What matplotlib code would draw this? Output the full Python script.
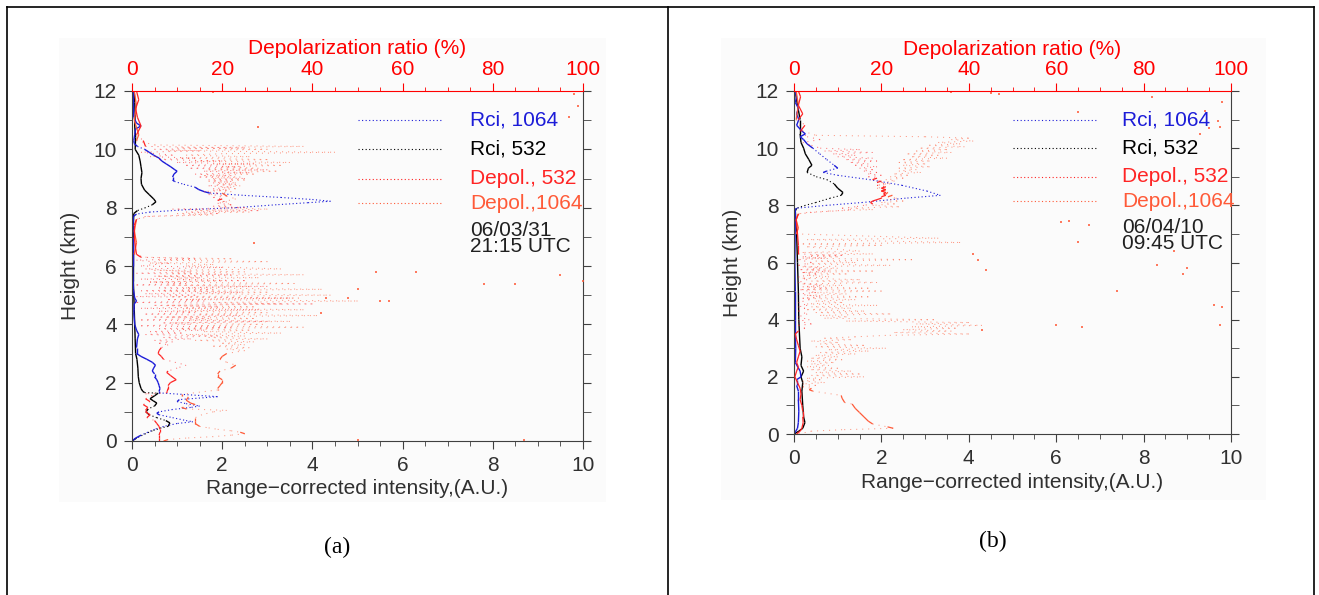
import numpy as np
import matplotlib
matplotlib.use('Agg')
import matplotlib.pyplot as plt
from matplotlib.collections import LineCollection
from matplotlib.lines import Line2D
from matplotlib.patches import Rectangle

plt.rcParams['font.family'] = ['Liberation Sans', 'DejaVu Sans']

# ---- panel (a) : 06/03/31 21:15 UTC  (height km, value) ----
a_rci532 = [(12.0, 0.05), (11.6, 0.06), (11.2, 0.07), (10.8, 0.06), (10.4, 0.08), (10.0, 0.07),
            (9.8, 0.15), (9.6, 0.18), (9.4, 0.2), (9.2, 0.22), (9.0, 0.2), (8.8, 0.21), (8.6, 0.28),
            (8.45, 0.38), (8.3, 0.48), (8.2, 0.53), (8.1, 0.45), (8.0, 0.3), (7.9, 0.12), (7.8, 0.04),
            (7.4, 0.03), (6.5, 0.03), (5.5, 0.03), (5.0, 0.04), (4.5, 0.05), (4.0, 0.06), (3.5, 0.07),
            (3.0, 0.08), (2.8, 0.11), (2.5, 0.13), (2.2, 0.14), (2.0, 0.16), (1.8, 0.2), (1.7, 0.24),
            (1.66, 0.28), (1.64, 0.58), (1.55, 0.5), (1.45, 0.4), (1.38, 0.47), (1.3, 0.55), (1.2, 0.5),
            (1.1, 0.36), (1.0, 0.31), (0.9, 0.38), (0.8, 0.55), (0.7, 0.75), (0.62, 0.84), (0.5, 0.8),
            (0.45, 0.65), (0.35, 0.45), (0.25, 0.3), (0.1, 0.1), (0.0, 0.0)]
a_rci1064 = [(12.0, 0.03), (11.5, 0.03), (11.1, 0.04), (10.9, 0.1), (10.8, 0.2), (10.7, 0.08), (10.5, 0.06),
             (10.3, 0.04), (10.2, 0.05), (10.1, 0.12), (10.0, 0.28), (9.9, 0.38), (9.8, 0.48), (9.7, 0.6),
             (9.6, 0.66), (9.5, 0.76), (9.4, 0.86), (9.3, 0.95), (9.25, 1.0), (9.15, 0.93), (9.05, 0.9),
             (8.95, 0.9), (8.9, 0.94), (8.8, 1.15), (8.7, 1.4), (8.62, 1.48), (8.55, 1.6), (8.5, 1.72),
             (8.42, 2.5), (8.35, 3.3), (8.28, 4.0), (8.22, 4.4), (8.17, 3.9), (8.1, 3.2), (8.0, 2.3),
             (7.93, 1.2), (7.85, 0.4), (7.78, 0.1), (7.7, 0.03), (7.0, 0.02), (6.0, 0.02), (5.2, 0.03),
             (4.9, 0.06), (4.8, 0.1), (4.7, 0.05), (4.4, 0.04), (4.0, 0.06), (3.8, 0.1), (3.65, 0.15),
             (3.5, 0.12), (3.2, 0.1), (3.0, 0.1), (2.9, 0.2), (2.8, 0.33), (2.7, 0.45), (2.6, 0.52),
             (2.5, 0.48), (2.4, 0.45), (2.3, 0.5), (2.2, 0.5), (2.1, 0.55), (2.0, 0.58), (1.9, 0.6),
             (1.8, 0.62), (1.7, 0.6), (1.65, 0.6), (1.52, 1.9), (1.42, 1.05), (1.35, 1.0), (1.28, 1.2),
             (1.2, 1.5), (1.15, 1.3), (1.08, 0.9), (1.0, 0.6), (0.95, 0.55), (0.9, 0.6), (0.8, 0.9),
             (0.7, 1.2), (0.66, 1.35), (0.6, 1.0), (0.5, 0.7), (0.4, 0.5), (0.3, 0.35), (0.2, 0.2),
             (0.1, 0.08), (0.0, 0.0)]
a_dep532 = [(12.0, 1.0), (11.7, 1.5), (11.4, 0.8), (11.1, 1.2), (10.8, 2.0), (10.5, 1.0), (10.3, 2.5),
            (10.1, 3), (10.05, 25), (10.0, 5), (9.95, 15), (9.9, 2), (9.8, 9), (9.75, 4), (9.7, 14),
            (9.65, 6), (9.6, 20), (9.55, 10), (9.5, 27), (9.45, 12), (9.4, 24), (9.35, 13), (9.3, 30),
            (9.25, 16), (9.2, 26), (9.15, 14), (9.1, 22), (9.05, 15), (9.0, 25), (8.95, 17), (8.9, 22),
            (8.85, 18), (8.8, 23), (8.75, 17), (8.7, 22), (8.65, 18), (8.6, 21), (8.55, 16), (8.5, 19),
            (8.45, 17), (8.4, 21), (8.35, 18), (8.3, 20), (8.25, 19), (8.2, 21), (8.15, 19), (8.1, 22),
            (8.05, 18), (8.0, 25), (7.95, 9), (7.9, 28), (7.85, 12), (7.8, 19), (7.75, 13), (7.7, 3),
            (7.6, 1), (7.4, 0.5), (7.0, 0.5), (6.6, 0.8), (6.4, 1),
            (6.3, 2), (6.25, 14), (6.2, 1), (6.1, 8), (6.0, 2), (5.95, 20), (5.9, 3), (5.8, 13),
            (5.75, 1), (5.7, 22), (5.65, 5), (5.6, 15), (5.55, 2), (5.5, 25), (5.45, 4), (5.4, 12),
            (5.35, 1), (5.3, 30), (5.25, 6), (5.2, 18), (5.15, 2), (5.1, 24), (5.05, 3), (5.0, 14),
            (4.95, 1), (4.9, 35), (4.85, 8), (4.8, 16), (4.75, 1), (4.7, 40), (4.65, 5), (4.6, 19),
            (4.55, 2), (4.5, 28), (4.45, 6), (4.4, 14), (4.35, 3), (4.3, 24), (4.25, 5), (4.2, 17),
            (4.15, 2), (4.1, 30), (4.05, 7), (4.0, 13), (3.95, 2), (3.9, 22), (3.85, 6), (3.8, 16),
            (3.75, 4), (3.7, 11), (3.65, 3), (3.6, 19), (3.55, 7), (3.5, 13), (3.45, 5), (3.4, 9),
            (3.35, 6), (3.3, 8), (3.2, 6.5), (3.1, 6.0), (3.0, 5.8), (2.9, 6.5), (2.8, 7.0), (2.7, 9.5),
            (2.6, 12), (2.5, 10), (2.4, 8), (2.35, 7.7), (2.25, 8.5), (2.1, 9.8), (2.0, 8.5), (1.9, 8),
            (1.8, 8.0), (1.7, 7.8), (1.65, 7.7), (1.62, 3.0), (1.55, 4.5), (1.45, 3.0), (1.35, 4.0),
            (1.25, 2.5), (1.15, 3.5), (1.05, 3.0), (1.0, 3.0), (0.9, 4.0), (0.8, 3.3), (0.7, 5.0),
            (0.6, 5.5), (0.5, 6.0), (0.4, 6.2), (0.3, 6.2), (0.2, 6.0), (0.1, 6.0), (0.0, 6.0)]
a_dep1064 = [(12.0, 0.5), (11.5, 1), (11.0, 0.5), (10.5, 1.5), (10.3, 1),
             (10.15, 5), (10.1, 38), (10.05, 10), (10.0, 30), (9.95, 8), (9.9, 45), (9.85, 20), (9.8, 12),
             (9.75, 26), (9.7, 11), (9.65, 30), (9.6, 14), (9.55, 35), (9.5, 18), (9.45, 33), (9.4, 20),
             (9.35, 28), (9.3, 17), (9.25, 32), (9.2, 20), (9.15, 27), (9.1, 16), (9.05, 24), (9.0, 18),
             (8.95, 25), (8.9, 17), (8.85, 23), (8.8, 19), (8.75, 24), (8.7, 20), (8.65, 23), (8.6, 18),
             (8.55, 22), (8.5, 20), (8.4, 21), (8.3, 23), (8.2, 20), (8.1, 22), (8.0, 20), (7.95, 30),
             (7.9, 14), (7.85, 26), (7.8, 10), (7.75, 18), (7.7, 4), (7.6, 1), (7.2, 0.5), (6.8, 1),
             (6.4, 0.5), (6.3, 3), (6.25, 22), (6.2, 6), (6.15, 30), (6.1, 4), (6.05, 18), (6.0, 12),
             (5.9, 33), (5.85, 5), (5.8, 25), (5.75, 9), (5.7, 38), (5.65, 6), (5.6, 28), (5.55, 10),
             (5.5, 20), (5.45, 4), (5.4, 36), (5.35, 8), (5.3, 26), (5.25, 12), (5.2, 42), (5.15, 7),
             (5.1, 30), (5.05, 15), (5.0, 44), (4.95, 9), (4.9, 37), (4.85, 12), (4.8, 50), (4.75, 18),
             (4.7, 33), (4.65, 8), (4.6, 27), (4.55, 12), (4.5, 38), (4.45, 10), (4.4, 30), (4.35, 15),
             (4.3, 41), (4.25, 8), (4.2, 27), (4.15, 13), (4.1, 35), (4.05, 9), (4.0, 29), (3.95, 14),
             (3.9, 38), (3.85, 11), (3.8, 26), (3.75, 16), (3.7, 33), (3.65, 12), (3.6, 25), (3.55, 17),
             (3.5, 30), (3.45, 14), (3.4, 27), (3.35, 20), (3.3, 25), (3.25, 18), (3.2, 26), (3.15, 21),
             (3.1, 25), (3.0, 21), (2.9, 20), (2.8, 19.5), (2.7, 21), (2.6, 23), (2.5, 22), (2.4, 19.5),
             (2.3, 19), (2.2, 19), (2.1, 20), (2.0, 20), (1.9, 19.5), (1.8, 19), (1.75, 19), (1.6, 11),
             (1.55, 11), (1.5, 12.5), (1.4, 12), (1.3, 13), (1.25, 14), (1.15, 11), (1.1, 12), (1.05, 21),
             (1.0, 18), (0.9, 15.5), (0.8, 14), (0.7, 14), (0.6, 14), (0.5, 15), (0.45, 17), (0.4, 19),
             (0.35, 22), (0.3, 24), (0.25, 25), (0.2, 22), (0.15, 18), (0.1, 12), (0.05, 8), (0.0, 7)]
a_dots = [(11.9, 98), (11.5, 99), (11.1, 97), (10.75, 28), (11.95, 18), (12.0, 8), (6.8, 27),
          (5.8, 54), (5.8, 63), (5.4, 78), (5.4, 85), (5.7, 95), (5.5, 100), (5.2, 50), (4.9, 43),
          (4.9, 48), (4.8, 55), (4.8, 57), (4.4, 42), (0.05, 87), (0.02, 50)]
a_date = ['06/03/31', '21:15 UTC']

# ---- panel (b) : 06/04/10 09:45 UTC ----
b_rci532 = [(12.0, 0.03), (11.5, 0.08), (11.0, 0.14), (10.5, 0.14), (10.2, 0.16), (10.0, 0.22),
            (9.8, 0.26), (9.6, 0.34), (9.4, 0.41), (9.3, 0.33), (9.15, 0.3), (9.0, 0.51), (8.9, 0.75),
            (8.75, 0.92), (8.6, 1.0), (8.45, 1.12), (8.35, 1.08), (8.25, 0.83), (8.1, 0.5), (8.0, 0.26),
            (7.9, 0.06), (7.8, 0.03), (7.0, 0.06), (6.0, 0.08), (5.0, 0.1), (4.0, 0.11), (3.0, 0.14),
            (2.7, 0.18), (2.4, 0.16), (2.2, 0.22), (2.0, 0.16), (1.8, 0.2), (1.5, 0.18), (1.0, 0.2),
            (0.6, 0.22), (0.4, 0.25), (0.2, 0.2), (0.1, 0.11), (0.0, 0.0)]
b_rci1064 = [(12.0, 0.02), (11.8, 0.06), (11.6, 0.03), (11.4, 0.1), (11.2, 0.06), (11.0, 0.11),
             (10.8, 0.06), (10.6, 0.18), (10.5, 0.26), (10.4, 0.14), (10.3, 0.22), (10.15, 0.3),
             (10.0, 0.43), (9.8, 0.59), (9.6, 0.75), (9.4, 0.92), (9.3, 1.0), (9.2, 0.75), (9.15, 0.67),
             (9.05, 1.0), (8.9, 1.73), (8.7, 2.47), (8.5, 3.04), (8.35, 3.35), (8.25, 2.55), (8.1, 1.57),
             (8.0, 0.75), (7.9, 0.06), (7.85, 0.03), (6.0, 0.02), (5.0, 0.03), (4.0, 0.03), (3.4, 0.03),
             (3.0, 0.04), (2.5, 0.03), (2.2, 0.14), (2.0, 0.16), (1.9, 0.06), (1.7, 0.06), (1.5, 0.1),
             (1.2, 0.1), (0.8, 0.11), (0.4, 0.1), (0.2, 0.08), (0.1, 0.04), (0.0, 0.0)]
b_dep532 = [(12.0, 1), (11.8, 1.5), (11.5, 1), (11.2, 2), (11.0, 1), (10.8, 2.5), (10.6, 1.5), (10.4, 3),
            (10.3, 6), (10.2, 2), (10.1, 4), (10.0, 6), (9.95, 15), (9.9, 7), (9.85, 18), (9.8, 9),
            (9.75, 14), (9.7, 10), (9.65, 18), (9.6, 12), (9.55, 19), (9.5, 13), (9.45, 17), (9.4, 14),
            (9.35, 19), (9.3, 15), (9.25, 18), (9.2, 16), (9.15, 19), (9.1, 17), (9.05, 20), (9.0, 17),
            (8.95, 19), (8.9, 18), (8.85, 20), (8.8, 19), (8.75, 21), (8.7, 19), (8.65, 21), (8.6, 20),
            (8.55, 21), (8.5, 20), (8.45, 21), (8.4, 20.5), (8.35, 21), (8.3, 20), (8.25, 20), (8.2, 19),
            (8.15, 18), (8.1, 17.5), (8.05, 18), (8.0, 16), (7.95, 14), (7.9, 11), (7.85, 13), (7.8, 9),
            (7.75, 4), (7.7, 1), (7.5, 0.5), (7.0, 0.8), (6.6, 1),
            (6.3, 1), (6.25, 11), (6.2, 2), (6.15, 7), (6.1, 1), (6.0, 4), (5.9, 1), (5.8, 6), (5.75, 1.5),
            (5.7, 8), (5.65, 2), (5.6, 5), (5.5, 1), (5.4, 3), (5.3, 1), (5.2, 6), (5.15, 2), (5.1, 7.5),
            (5.05, 1.5), (4.95, 5), (4.9, 1), (4.8, 6), (4.75, 2), (4.7, 3.5), (4.6, 1), (4.5, 3),
            (4.45, 1), (4.4, 2.5), (4.3, 1), (4.2, 3), (4.1, 1), (4.0, 3.5), (3.95, 1), (3.85, 4),
            (3.8, 1), (3.7, 2.5), (3.6, 1), (3.5, 0.3), (3.3, 0.6), (3.1, 1.0), (2.9, 1.4), (2.7, 1.0),
            (2.5, 0.6), (2.35, 1.0), (2.2, 0.6), (2.0, 0.2), (1.8, 0.8), (1.6, 1.4), (1.4, 1.6),
            (1.2, 1.4), (1.0, 1.8), (0.8, 2.0), (0.6, 2.0), (0.4, 2.1), (0.2, 1.8), (0.1, 1.4), (0.0, 0.6)]
b_dep1064 = [(12.0, 0.5), (11.5, 1), (11.0, 0.5), (10.6, 2), (10.45, 5),
             (10.4, 30), (10.35, 40), (10.3, 36), (10.25, 41), (10.2, 33), (10.15, 38), (10.1, 31),
             (10.05, 39), (10.0, 29), (9.95, 35), (9.9, 28), (9.85, 36), (9.8, 26), (9.75, 33), (9.7, 27),
             (9.65, 35), (9.6, 25), (9.55, 31), (9.5, 24), (9.45, 30), (9.4, 25), (9.35, 31), (9.3, 24),
             (9.25, 28), (9.2, 24), (9.15, 29), (9.1, 23), (9.05, 26), (9.0, 22), (8.95, 25), (8.9, 21),
             (8.85, 23), (8.8, 20), (8.75, 22), (8.7, 19), (8.65, 21), (8.6, 19), (8.55, 21), (8.5, 20),
             (8.45, 21.5), (8.4, 21), (8.35, 22.5), (8.3, 21.5), (8.25, 23.5), (8.2, 22), (8.15, 25),
             (8.1, 20), (8.05, 23), (8.0, 18), (7.95, 24), (7.9, 13), (7.85, 18), (7.8, 8), (7.75, 3),
             (7.7, 1), (7.5, 0.5), (7.2, 1), (7.0, 0.5),
             (6.85, 33), (6.8, 3), (6.7, 38), (6.65, 2), (6.6, 20), (6.55, 3), (6.4, 15), (6.35, 2),
             (6.3, 18), (6.25, 4), (6.2, 10), (6.15, 2), (6.1, 27), (6.05, 5), (6.0, 14), (5.95, 3),
             (5.9, 22), (5.85, 2), (5.8, 10), (5.75, 4), (5.7, 18), (5.65, 2), (5.6, 12), (5.55, 3),
             (5.5, 8), (5.45, 2), (5.4, 15), (5.35, 4), (5.3, 19), (5.25, 2), (5.2, 11), (5.15, 3),
             (5.1, 17), (5.05, 2), (5.0, 20), (4.95, 4), (4.9, 12), (4.85, 3), (4.8, 17), (4.75, 2),
             (4.7, 14), (4.65, 5), (4.6, 11), (4.55, 3), (4.5, 19), (4.45, 4), (4.4, 13), (4.35, 3),
             (4.3, 16), (4.25, 5), (4.2, 22), (4.15, 6), (4.1, 12), (4.05, 7), (4.0, 32), (3.95, 12),
             (3.9, 40), (3.85, 28), (3.8, 43), (3.75, 27), (3.7, 37), (3.65, 25), (3.6, 36), (3.55, 23),
             (3.5, 40), (3.45, 21), (3.4, 14), (3.35, 7), (3.3, 13), (3.25, 4), (3.2, 10), (3.15, 6),
             (3.1, 16), (3.05, 5), (3.0, 21), (2.95, 8), (2.9, 17), (2.85, 6), (2.8, 14), (2.75, 5),
             (2.7, 10), (2.65, 4), (2.6, 11), (2.55, 3), (2.5, 9), (2.45, 4), (2.4, 8), (2.35, 3),
             (2.3, 10), (2.25, 4), (2.2, 13), (2.15, 5), (2.1, 15), (2.05, 4), (2.0, 16), (1.95, 3),
             (1.9, 6), (1.85, 2), (1.8, 7), (1.75, 2), (1.7, 5), (1.65, 2), (1.6, 4), (1.55, 3.5),
             (1.5, 4.3), (1.35, 10.8), (1.25, 11.0), (1.1, 11.6), (1.05, 13.3), (0.9, 14.0), (0.75, 15.0),
             (0.6, 16.0), (0.45, 17.0), (0.35, 18.0), (0.25, 21.4), (0.2, 22.7), (0.15, 11), (0.1, 4),
             (0.0, 1)]
b_dots = [(11.95, 36), (11.92, 45), (11.9, 47), (11.8, 82), (11.6, 98), (11.25, 65), (10.95, 97),
          (10.75, 97.5), (10.7, 95), (10.5, 93), (11.3, 94), (7.4, 61), (7.45, 63), (6.7, 65),
          (6.3, 41), (6.1, 42), (5.75, 44), (5.8, 90), (5.6, 89), (5.9, 83), (5.0, 74), (4.5, 96),
          (4.45, 98), (3.8, 97.5), (3.8, 60), (3.75, 66), (3.65, 43), (7.3, 67.5), (6.4, 87)]
b_date = ['06/04/10', '09:45 UTC']

legend_labels = ['Rci, 1064', 'Rci, 532', 'Depol., 532', 'Depol.,1064']
legend_heights = [11.0, 10.0, 9.0, 8.15]

C_BLUE, C_BLACK, C_RED, C_ORANGE = '#1c1cd8', '#000000', '#ff2424', '#ff5a38'
C_AXIS = '#404040'
DOT = (0, (1, 2.2))
SPARSE = (0, (1, 5))


def draw_profile(ax, pairs, color, lw=1.0, gap_px=6, jump_style=DOT, jump_alpha=1.0):
    # small horizontal steps drawn solid, long jumps dotted (like the original IDL plot)
    h = np.array([p[0] for p in pairs])
    v = np.array([p[1] for p in pairs])
    xy = np.column_stack([v, h])
    disp = ax.transData.transform(xy)
    solid, dotted = [], []
    for i in range(len(xy) - 1):
        seg = [xy[i], xy[i + 1]]
        if abs(disp[i + 1][0] - disp[i][0]) > gap_px:
            dotted.append(seg)
        else:
            solid.append(seg)
    ax.add_collection(LineCollection(solid, colors=color, linewidths=lw))
    ax.add_collection(LineCollection(dotted, colors=color, linewidths=lw * 0.8,
                                     linestyles=[jump_style], alpha=jump_alpha))


def make_panel(fig, rect, rci1064, rci532, dep532, dep1064, dots, date, lab_x, ylab_x, xlab_y):
    ax = fig.add_axes(rect)
    ax.set_xlim(0, 10)
    ax.set_ylim(0, 12)
    ax.patch.set_alpha(0)
    ax2 = ax.twiny()
    ax2.set_xlim(0, 100)

    for s in ['left', 'right', 'bottom']:
        ax.spines[s].set_color(C_AXIS)
        ax2.spines[s].set_visible(False)
    ax.spines['top'].set_visible(False)
    ax2.spines['top'].set_color('red')

    ax.set_xticks(np.arange(0, 11, 2))
    ax.set_xticks(np.arange(0, 10.01, 0.5), minor=True)
    ax.set_yticks(np.arange(0, 13, 2))
    ax.set_yticks(np.arange(0, 12.01, 1), minor=True)
    ax.tick_params(which='both', direction='out', right=True, top=False, color=C_AXIS,
                   labelsize=15, labelcolor='#303030')
    ax.tick_params(which='major', length=6, pad=5)
    ax.tick_params(which='minor', length=3.5)
    ax.tick_params(axis='y', which='minor', right=True, length=6)
    ax2.set_xticks(np.arange(0, 101, 20))
    ax2.set_xticks(np.arange(0, 101, 5), minor=True)
    ax2.tick_params(which='both', direction='out', color='red', labelcolor='red', labelsize=15)
    ax2.tick_params(which='major', length=6, pad=2.5)
    ax2.tick_params(which='minor', length=3)

    ax.set_ylabel('Height (km)', fontsize=15, color='#303030')
    ax.yaxis.set_label_coords(ylab_x, 0.5)
    ax.set_xlabel('Range\u2212corrected intensity,(A.U.)', fontsize=15, color='#303030')
    ax.xaxis.set_label_coords(0.5, xlab_y)
    ax2.set_xlabel('Depolarization ratio (%)', fontsize=15, color='red')
    ax2.xaxis.set_label_coords(0.5, 1.105)

    draw_profile(ax2, dep1064, C_ORANGE, lw=0.9, jump_style=SPARSE, jump_alpha=0.65)
    draw_profile(ax2, dep532, C_RED, lw=0.9, jump_style=SPARSE, jump_alpha=0.65)
    draw_profile(ax, rci532, C_BLACK)
    draw_profile(ax, rci1064, C_BLUE)
    ax2.scatter([d[1] for d in dots], [d[0] for d in dots], s=1.2, marker='s',
                color=C_ORANGE, alpha=0.8, linewidths=0)

    # legend drawn in data units as in the original
    colors = [C_BLUE, C_BLACK, C_RED, C_ORANGE]
    for lab, hy, col in zip(legend_labels, legend_heights, colors):
        ax.plot([5.0, 6.9], [hy, hy], color=col, lw=0.8, linestyle=DOT)
        ax.text(lab_x, hy, lab, color=col, fontsize=15, va='center', ha='left')
    ax.text(lab_x, 6.93, date[0] + '\n' + date[1], color='#202020', fontsize=15,
            va='center', ha='left', linespacing=0.8)
    return ax


W, H = 1319, 595
fig = plt.figure(figsize=(W / 100, H / 100), dpi=100)
fig.patch.set_facecolor('white')

# faint grey backdrop of the pasted plot images
for x0, y0, x1, y1 in [(59, 38, 606, 502), (721, 38, 1266, 500)]:
    fig.add_artist(Rectangle((x0 / W, 1 - y1 / H), (x1 - x0) / W, (y1 - y0) / H,
                             transform=fig.transFigure, facecolor='#fbfbfb', edgecolor='none', zorder=0))

make_panel(fig, [132 / W, 1 - 441 / H, 451 / W, 350 / H], a_rci1064, a_rci532, a_dep532, a_dep1064,
           a_dots, a_date, 7.5, -0.115, -0.11)
make_panel(fig, [794 / W, 1 - 434 / H, 437 / W, 343 / H], b_rci1064, b_rci532, b_dep532, b_dep1064,
           b_dots, b_date, 7.5, -0.118, -0.113)

# table frame around the two panels
frame_kw = dict(color='black', lw=1.2, transform=fig.transFigure)
fig.add_artist(Line2D([6.5 / W, 1314 / W], [1 - 7 / H, 1 - 7 / H], **frame_kw))
for xv in [6.5, 668, 1314]:
    fig.add_artist(Line2D([xv / W, xv / W], [1 - 7 / H, 0], **frame_kw))

fig.text(337 / W, 1 - 547 / H, '(a)', fontsize=17, family='Liberation Serif', ha='center', va='center')
fig.text(993 / W, 1 - 541 / H, '(b)', fontsize=17, family='Liberation Serif', ha='center', va='center')

fig.savefig('out.png', dpi=100)
